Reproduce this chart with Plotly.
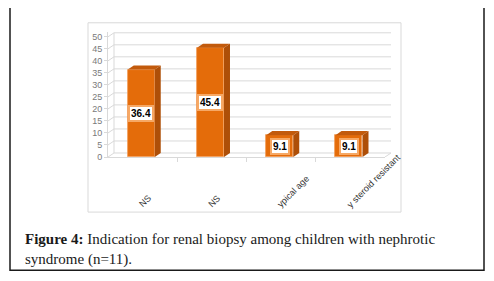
import plotly.graph_objects as go

# ---- data ----
categories = ["NS", "NS", "ypical age", "y steroid resistant"]
values = [36.4, 45.4, 9.1, 9.1]
y_ticks = [0, 5, 10, 15, 20, 25, 30, 35, 40, 45, 50]
caption_bold = "Figure 4:"
caption_text = "Indication for renal biopsy among children with nephrotic<br>syndrome (n=11)."

# ---- geometry (pixels of the 494x281 window; page body has an 8px margin) ----
OFF = 8
W, H = 494 - 2 * OFF, 281 - 2 * OFF
L, R = 108 - OFF, 385 - OFF          # plot area left/right px (figure coords)
T, B = 32.2 - OFF, 157 - OFF         # plot area top/bottom px (figure coords)
YMAX = 52
xr = (-0.5, 3.5)
pxu_x = (R - L) / (xr[1] - xr[0])
pxu_y = (B - T) / YMAX

def px_x(p):  # window pixel -> paper x
    return (p - OFF - L) / (R - L)

def px_y(p):  # window pixel -> paper y
    return (B - (p - OFF)) / (B - T)

DXP, DYP = 6, 4          # 3D depth in px
dxu = DXP / pxu_x
dyu = DYP / pxu_y
dxp = DXP / (R - L)

bar_w = 0.39
bar_off = -0.215

FRONT = "#E46C0A"
TOP = "#C25A0C"
SIDE = "#AE4F08"
GRID = "#D9D9D9"

fig = go.Figure()
xs = list(range(len(categories)))
fig.add_trace(go.Bar(
    x=xs, y=values, width=bar_w, offset=bar_off,
    marker=dict(color=FRONT, line=dict(color="#F29A55", width=0.8)),
    hoverinfo="skip", showlegend=False,
))

shapes = []
for v in y_ticks:
    shapes.append(dict(type="line", xref="paper", yref="y",
                       x0=dxp, x1=1 + dxp, y0=v + dyu, y1=v + dyu,
                       line=dict(color=GRID, width=1), layer="below"))
    shapes.append(dict(type="line", xref="paper", yref="y",
                       x0=0, x1=dxp, y0=v, y1=v + dyu,
                       line=dict(color=GRID, width=1), layer="below"))
shapes.append(dict(type="line", xref="paper", yref="y", x0=dxp, x1=dxp,
                   y0=dyu, y1=y_ticks[-1] + dyu,
                   line=dict(color=GRID, width=1), layer="below"))
shapes.append(dict(type="line", xref="paper", yref="y", x0=1, x1=1 + dxp,
                   y0=0, y1=dyu, line=dict(color=GRID, width=1), layer="below"))

for i, v in enumerate(values):
    x0 = i + bar_off
    x1 = x0 + bar_w
    top = f"M {x0},{v} L {x1},{v} L {x1+dxu},{v+dyu} L {x0+dxu},{v+dyu} Z"
    side = f"M {x1},0 L {x1+dxu},{dyu} L {x1+dxu},{v+dyu} L {x1},{v} Z"
    shapes.append(dict(type="path", xref="x", yref="y", path=top,
                       fillcolor=TOP, line=dict(width=0)))
    shapes.append(dict(type="path", xref="x", yref="y", path=side,
                       fillcolor=SIDE, line=dict(width=0)))

shapes.append(dict(type="rect", xref="paper", yref="paper",
                   x0=px_x(88), x1=px_x(401), y0=px_y(212), y1=px_y(23),
                   line=dict(color="#D9D9D9", width=1), layer="below"))
shapes.append(dict(type="rect", xref="paper", yref="paper",
                   x0=px_x(10), x1=px_x(484), y0=px_y(270), y1=px_y(6),
                   line=dict(color="#1a1a1a", width=1.5), layer="below"))

annotations = []
for i, v in enumerate(values):
    annotations.append(dict(
        x=i + bar_off + bar_w / 2, y=v / 2, xref="x", yref="y",
        text=f"<b>{v}</b>", showarrow=False,
        font=dict(family="Liberation Sans", size=10, color="#000000"),
        bgcolor="#FFFFFF", bordercolor="#F6A865", borderwidth=2, borderpad=1,
    ))
for i, c in enumerate(categories):
    annotations.append(dict(
        x=i - 0.12, y=px_y(212), xref="x", yref="paper",
        text=c, textangle=-45, showarrow=False,
        xanchor="left", yanchor="bottom",
        font=dict(family="Liberation Sans", size=9, color="#333333"),
    ))
annotations.append(dict(
    x=px_x(23), y=px_y(229), xref="paper", yref="paper",
    xanchor="left", yanchor="top", align="left", showarrow=False,
    text=f"<b>{caption_bold}</b> {caption_text}",
    font=dict(family="Liberation Serif", size=15, color="#1a1a1a"),
))

fig.update_layout(
    width=W, height=H,
    margin=dict(l=L, r=W - R, t=T, b=H - B, pad=0),
    paper_bgcolor="white", plot_bgcolor="white",
    xaxis=dict(range=list(xr), showgrid=False, zeroline=False,
               showline=True, linecolor=GRID, linewidth=1,
               tickvals=[0.5, 1.5, 2.5], ticktext=["", "", ""],
               ticks="outside", ticklen=4, tickcolor=GRID),
    yaxis=dict(range=[0, YMAX], showgrid=False, zeroline=False,
               showline=True, linecolor=GRID, linewidth=1,
               tickvals=y_ticks, ticks="outside", ticklen=3, tickcolor=GRID,
               tickfont=dict(family="Liberation Sans", size=9, color="#7A7A7A")),
    shapes=shapes, annotations=annotations,
    bargap=0,
)

fig.write_html("out.html")
